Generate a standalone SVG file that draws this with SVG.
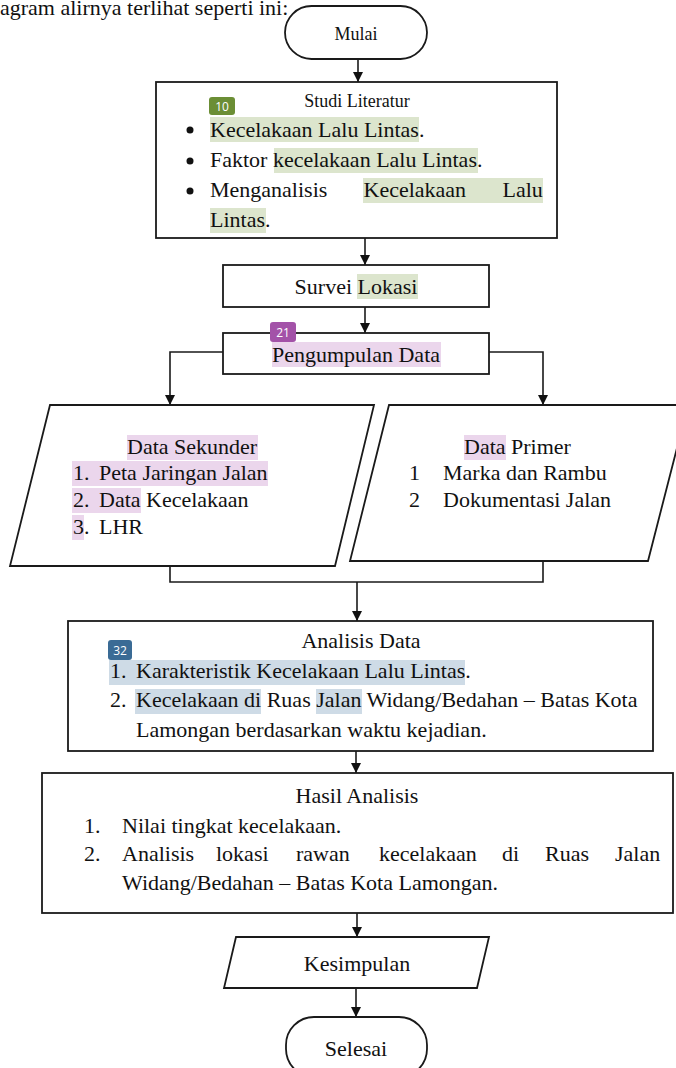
<svg xmlns="http://www.w3.org/2000/svg" width="676" height="1068" viewBox="0 0 676 1068">
<style>
.t{font-family:"Liberation Serif","Times New Roman",serif;font-size:22px;fill:#111}
.s{font-size:18px}
.m{text-anchor:middle}
.box{fill:#fff;stroke:#1a1a1a;stroke-width:1.8}
.ln{fill:none;stroke:#1a1a1a;stroke-width:1.6}
.hg{fill:#dce5cd}
.hp{fill:#ebd6ec}
.hb{fill:#cedbe6}
.bd{font-family:"Open Sans","Noto Sans",sans-serif;font-size:12px;fill:#fff;text-anchor:middle}
</style>
<defs>
<marker id="ah" viewBox="0 0 10 10" refX="10" refY="5" markerWidth="10" markerHeight="10" markerUnits="userSpaceOnUse" orient="auto">
<path d="M0,0 L10,5 L0,10 z" fill="#111"/>
</marker>
</defs>
<rect width="676" height="1068" fill="#fff"/>
<text class="t" x="0" y="15">agram alirnya terlihat seperti ini:</text>

<g id="connectors">
<path class="ln" d="M358,59 V82" marker-end="url(#ah)"/>
<path class="ln" d="M365,238 V265" marker-end="url(#ah)"/>
<path class="ln" d="M365,307 V333" marker-end="url(#ah)"/>
<path class="ln" d="M223,352 H170 V405" marker-end="url(#ah)"/>
<path class="ln" d="M489,352 H543 V405" marker-end="url(#ah)"/>
<path class="ln" d="M170,566 V582 H543 V561"/>
<path class="ln" d="M357,582 V621" marker-end="url(#ah)"/>
<path class="ln" d="M356,751 V773" marker-end="url(#ah)"/>
<path class="ln" d="M357,913 V937" marker-end="url(#ah)"/>
<path class="ln" d="M356,988 V1017" marker-end="url(#ah)"/>
</g>

<g id="mulai">
<rect class="box" x="285" y="6" width="142" height="53" rx="26.5"/>
<text class="t s m" x="356" y="40">Mulai</text>
</g>

<g id="studi-literatur">
<rect class="box" x="156" y="82" width="401" height="156"/>
<rect class="hg" x="210" y="117" width="209" height="25"/>
<rect class="hg" x="274" y="148" width="204" height="25"/>
<rect class="hg" x="363" y="178" width="180" height="25"/>
<rect class="hg" x="210" y="208" width="56" height="25"/>
<text class="t s m" x="357" y="107">Studi Literatur</text>
<circle cx="190" cy="130" r="3.5" fill="#111"/>
<circle cx="190" cy="161" r="3.5" fill="#111"/>
<circle cx="190" cy="191" r="3.5" fill="#111"/>
<text class="t" x="210" y="137">Kecelakaan Lalu Lintas.</text>
<text class="t" x="210" y="167">Faktor kecelakaan Lalu Lintas.</text>
<text class="t" y="197"><tspan x="210">Menganalisis</tspan><tspan x="363.5">Kecelakaan</tspan><tspan x="502.5">Lalu</tspan></text>
<text class="t" x="210" y="227">Lintas.</text>
<rect x="209" y="97" width="26" height="18" rx="3" fill="#6b8e35"/>
<text class="bd" x="222" y="110.5">10</text>
</g>

<g id="survei-lokasi">
<rect class="box" x="223" y="265" width="266" height="42"/>
<rect class="hg" x="357" y="274" width="61" height="25"/>
<text class="t m" x="356" y="294">Survei Lokasi</text>
</g>

<g id="pengumpulan-data">
<rect class="box" x="223" y="333" width="266" height="41"/>
<rect class="hp" x="272" y="342" width="169" height="25"/>
<text class="t m" x="356" y="362">Pengumpulan Data</text>
<rect x="270" y="322" width="26" height="20" rx="3" fill="#a352a8"/>
<text class="bd" x="283" y="336.5">21</text>
</g>

<g id="data-sekunder">
<polygon class="box" points="50,405 374,405 335,566 10,566"/>
<rect class="hp" x="127" y="435" width="131" height="25"/>
<rect class="hp" x="72" y="461" width="196" height="25"/>
<rect class="hp" x="72" y="488" width="69" height="25"/>
<rect class="hp" x="72" y="515" width="12" height="25"/>
<text class="t" x="127" y="454">Data Sekunder</text>
<text class="t" y="480"><tspan x="73">1.</tspan><tspan x="99">Peta Jaringan Jalan</tspan></text>
<text class="t" y="507"><tspan x="73">2.</tspan><tspan x="99">Data Kecelakaan</tspan></text>
<text class="t" y="534"><tspan x="73">3.</tspan><tspan x="99">LHR</tspan></text>
</g>

<g id="data-primer">
<polygon class="box" points="389,405 688,405 648,561 350,561"/>
<rect class="hp" x="464" y="435" width="42" height="25"/>
<text class="t" x="464" y="454">Data Primer</text>
<text class="t" y="480"><tspan x="409">1</tspan><tspan x="443">Marka dan Rambu</tspan></text>
<text class="t" y="507"><tspan x="409">2</tspan><tspan x="443">Dokumentasi Jalan</tspan></text>
</g>

<g id="analisis-data">
<rect class="box" x="68" y="621" width="585" height="130"/>
<rect class="hb" x="109" y="660" width="356" height="25"/>
<rect class="hb" x="135" y="689" width="126" height="25"/>
<rect class="hb" x="316" y="689" width="46" height="25"/>
<text class="t m" x="361" y="648">Analisis Data</text>
<text class="t" y="678"><tspan x="110">1.</tspan><tspan x="136">Karakteristik Kecelakaan Lalu Lintas.</tspan></text>
<text class="t" y="707"><tspan x="110">2.</tspan><tspan x="136">Kecelakaan di Ruas Jalan Widang/Bedahan – Batas Kota</tspan></text>
<text class="t" x="136" y="737">Lamongan berdasarkan waktu kejadian.</text>
<rect x="108" y="640" width="24" height="20" rx="3" fill="#3a6b95"/>
<text class="bd" x="120" y="654.5">32</text>
</g>

<g id="hasil-analisis">
<rect class="box" x="42" y="773" width="631" height="140"/>
<text class="t m" x="357" y="803">Hasil Analisis</text>
<text class="t" y="833"><tspan x="84">1.</tspan><tspan x="122">Nilai tingkat kecelakaan.</tspan></text>
<text class="t" y="861"><tspan x="84">2.</tspan><tspan x="122">Analisis</tspan><tspan x="216">lokasi</tspan><tspan x="296">rawan</tspan><tspan x="379">kecelakaan</tspan><tspan x="502">di</tspan><tspan x="545">Ruas</tspan><tspan x="615">Jalan</tspan></text>
<text class="t" x="122" y="890">Widang/Bedahan – Batas Kota Lamongan.</text>
</g>

<g id="kesimpulan">
<polygon class="box" points="236,937 489,937 477,988 224,988"/>
<text class="t m" x="357" y="971">Kesimpulan</text>
</g>

<g id="selesai">
<rect class="box" x="286" y="1017" width="141" height="60" rx="28"/>
<text class="t m" x="356" y="1056">Selesai</text>
</g>
</svg>
